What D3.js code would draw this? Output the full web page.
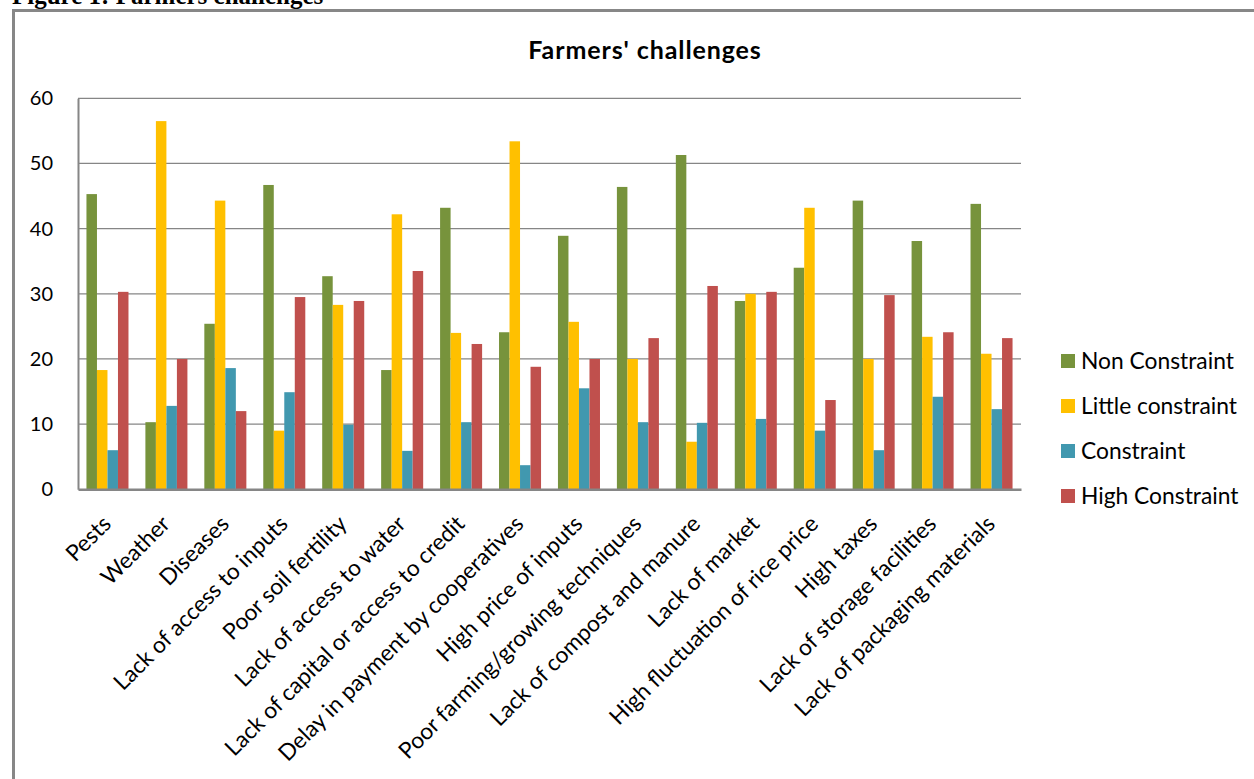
<!DOCTYPE html>
<html>
<head>
<meta charset="utf-8">
<script src="https://cdn.jsdelivr.net/npm/d3@7"></script>
<style>
body { margin: 0; background: #fff; }
svg { display: block; }
</style>
</head>
<body>
<div id="chartdiv"></div>
<script>
var categories = ['Pests', 'Weather', 'Diseases', 'Lack of access to inputs', 'Poor soil fertility',
  'Lack of access to water', 'Lack of capital or access to credit', 'Delay in payment by cooperatives',
  'High price of inputs', 'Poor farming/growing techniques', 'Lack of compost and manure', 'Lack of market',
  'High fluctuation of rice price', 'High taxes', 'Lack of storage facilities', 'Lack of packaging materials'];
var seriesNames = ['Non Constraint', 'Little constraint', 'Constraint', 'High Constraint'];
var nonConstraint = [45.3, 10.3, 25.4, 46.7, 32.7, 18.3, 43.2, 24.1, 38.9, 46.4, 51.3, 28.9, 34.0, 44.3, 38.1, 43.8];
var littleConstraint = [18.3, 56.5, 44.3, 9.0, 28.3, 42.2, 24.0, 53.4, 25.7, 20.0, 7.3, 30.0, 43.2, 20.0, 23.4, 20.8];
var constraint = [6.0, 12.8, 18.6, 14.9, 9.9, 5.9, 10.3, 3.7, 15.5, 10.3, 10.2, 10.8, 9.0, 6.0, 14.2, 12.3];
var highConstraint = [30.3, 20.0, 12.0, 29.5, 28.9, 33.5, 22.3, 18.8, 20.0, 23.2, 31.2, 30.3, 13.7, 29.8, 24.1, 23.2];
var yTicks = [0, 10, 20, 30, 40, 50, 60];

var allSeries = [nonConstraint, littleConstraint, constraint, highConstraint];
var colors = ['#77933C', '#FFC000', '#4198AF', '#C0504D'];

var corewidth = 1254, coreheight = 779;
var plot = {left: 78, right: 1021, top: 98.3, bottom: 489.3};
var font = "Lato, 'Open Sans', sans-serif";

var svg = d3.select('#chartdiv').append('svg')
  .attr('width', corewidth)
  .attr('height', coreheight);

// caption above the frame (cut off by page top, as in the source)
svg.append('text')
  .attr('x', 12)
  .attr('y', 4)
  .style('font-family', "'Liberation Serif', 'Times New Roman', serif")
  .style('font-weight', 'bold')
  .style('font-size', '25px')
  .text('Figure 1: Farmers challenges');

// chart frame
svg.append('rect')
  .attr('x', 13.5).attr('y', 10.5)
  .attr('width', 1260).attr('height', 800)
  .style('fill', 'none')
  .style('stroke', '#878787')
  .style('stroke-width', 3);

svg.append('text')
  .attr('x', 645)
  .attr('y', 59)
  .attr('text-anchor', 'middle')
  .style('font-family', font)
  .style('font-weight', 'bold')
  .style('font-size', '25px')
  .style('letter-spacing', '0.9px')
  .text("Farmers' challenges");

var x0 = d3.scaleBand().domain(categories).range([plot.left, plot.right]);
var gap = x0.bandwidth() * 0.1435;
var x1 = d3.scaleBand().domain(seriesNames).range([gap, x0.bandwidth() - gap]);
var y = d3.scaleLinear().domain([0, 60]).range([plot.bottom, plot.top]);

// gridlines
svg.append('g')
  .selectAll('line')
  .data(yTicks.slice(1))
  .enter().append('line')
  .attr('x1', plot.left).attr('x2', plot.right)
  .attr('y1', function(d) { return y(d); })
  .attr('y2', function(d) { return y(d); })
  .style('stroke', '#868686')
  .style('stroke-width', 1.3);

// bars
var groups = svg.append('g')
  .selectAll('g')
  .data(categories)
  .enter().append('g')
  .attr('transform', function(d) { return 'translate(' + x0(d) + ',0)'; });

groups.selectAll('rect')
  .data(function(d, i) {
    return seriesNames.map(function(s, j) { return {s: s, j: j, v: allSeries[j][i]}; });
  })
  .enter().append('rect')
  .attr('x', function(d) { return x1(d.s); })
  .attr('width', x1.bandwidth())
  .attr('y', function(d) { return y(d.v); })
  .attr('height', function(d) { return y(0) - y(d.v); })
  .style('fill', function(d) { return colors[d.j]; });

// y axis
var yAxis = svg.append('g')
  .attr('transform', 'translate(' + plot.left + ',0)')
  .call(d3.axisLeft(y).tickValues(yTicks).tickSize(0).tickPadding(25));
yAxis.select('.domain').style('stroke', '#868686').style('stroke-width', 2);
yAxis.selectAll('text')
  .style('font-family', font)
  .style('font-size', '20px')
  .style('fill', '#000');

// x axis
var xAxis = svg.append('g')
  .attr('transform', 'translate(0,' + plot.bottom + ')')
  .call(d3.axisBottom(x0).tickSize(0).tickFormat(''));
xAxis.select('.domain').style('stroke', '#868686').style('stroke-width', 2.5);

svg.append('g')
  .selectAll('text')
  .data(categories)
  .enter().append('text')
  .attr('transform', function(d) {
    return 'translate(' + (x0(d) + x0.bandwidth() / 2 + 5) + ',' + (plot.bottom + 36) + ') rotate(-45)';
  })
  .attr('text-anchor', 'end')
  .style('font-family', font)
  .style('font-size', '22.7px')
  .text(function(d) { return d; });

// legend
var legendY = [361, 406, 451, 496];
var legend = svg.append('g')
  .selectAll('g')
  .data(seriesNames)
  .enter().append('g')
  .attr('transform', function(d, i) { return 'translate(1061,' + legendY[i] + ')'; });
legend.append('rect')
  .attr('x', 0).attr('y', -7)
  .attr('width', 14).attr('height', 14)
  .style('fill', function(d, i) { return colors[i]; });
legend.append('text')
  .attr('x', 20)
  .attr('dy', '0.35em')
  .style('font-family', font)
  .style('font-size', '22.8px')
  .text(function(d) { return d; });
</script>
</body>
</html>
